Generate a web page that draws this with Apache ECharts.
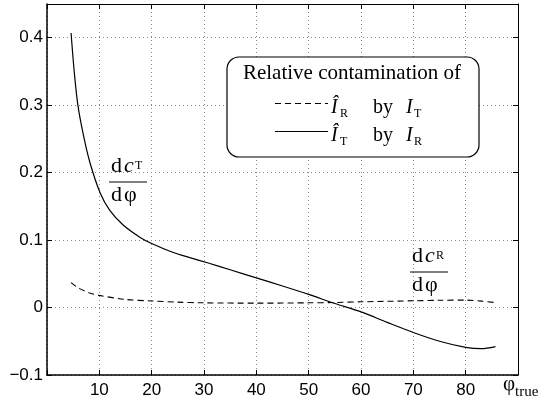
<!DOCTYPE html>
<html>
<head>
<meta charset="utf-8">
<script src="https://cdn.jsdelivr.net/npm/echarts@6/dist/echarts.min.js"></script>
<style>
html,body{margin:0;padding:0;background:#fff;}
#chart{width:544px;height:405px;}
</style>
</head>
<body>
<div id="chart"></div>
<script>
// curve samples (phi in degrees)
var phiT = [4.6, 5.2, 5.9, 7, 8.2, 10.1, 12, 14.6, 17.8, 20, 24, 27.3, 30.8, 35, 40, 45, 50, 55, 60, 65, 70, 75, 80, 83, 85.7];
var dcT  = [0.407, 0.35, 0.30, 0.254, 0.215, 0.171, 0.144, 0.122, 0.104, 0.095, 0.082, 0.074, 0.066, 0.056, 0.044, 0.032, 0.0195, 0.006, -0.0065, -0.022, -0.037, -0.050, -0.059, -0.061, -0.058];
var phiR = [4.6, 6, 8, 10, 15, 20, 25, 30, 40, 50, 55, 60, 70, 75, 80, 83, 85.7];
var dcR  = [0.037, 0.029, 0.022, 0.018, 0.012, 0.0098, 0.008, 0.007, 0.0065, 0.007, 0.0075, 0.0085, 0.010, 0.0108, 0.011, 0.0095, 0.0074];
var xTicks = [10, 20, 30, 40, 50, 60, 70, 80];
var yTicks = [-0.1, 0, 0.1, 0.2, 0.3, 0.4];

var SANS = 'Liberation Sans';
var SERIF = 'Liberation Serif';

function pairs(xs, ys){
  var out = [];
  for (var i = 0; i < xs.length; i++) out.push([xs[i], ys[i]]);
  return out;
}
function inList(v, list){
  for (var i = 0; i < list.length; i++) if (Math.abs(v - list[i]) < 1e-9) return true;
  return false;
}

// text helper, y = baseline (approx)
function txt(x, base, s, size, italic, align){
  return {
    type: 'text', z: 110, x: x, y: base - size * 0.34,
    style: {
      text: s, fill: '#000',
      font: (italic ? 'italic ' : '') + size + 'px "' + SERIF + '"',
      align: align || 'left', verticalAlign: 'middle'
    }
  };
}
function hline(x1, x2, y, dash, w){
  return {
    type: 'line', z: 110,
    shape: {x1: x1, y1: y, x2: x2, y2: y},
    style: {stroke: '#000', lineWidth: w || 1, lineDash: dash || null}
  };
}
// d c_sub / d phi
function frac(x0, barY, sub){
  return [
    txt(x0 + 2, barY - 8, 'd', 22),
    txt(x0 + 15, barY - 8, 'c', 22, true),
    txt(x0 + 26, barY - 12, sub, 12),
    hline(x0, x0 + 38, barY, null, 1),
    txt(x0 + 2, barY + 21, 'd', 22),
    txt(x0 + 15, barY + 21, '\u03c6', 22)
  ];
}

var graphics = [
  {type: 'rect', z: 105, shape: {x: 227, y: 57, width: 252, height: 100, r: 12},
   style: {fill: '#fff', stroke: '#000', lineWidth: 1.2}},
  txt(352, 81, 'Relative contamination of', 21, false, 'center'),
  hline(275, 328, 103.5, [6, 4], 1),
  txt(331, 115, '\u00ce', 20, true),
  txt(340, 118, 'R', 12),
  txt(373, 115, 'by', 20),
  txt(406, 115, 'I', 20, true),
  txt(414, 118, 'T', 12),
  hline(275, 328, 131.5, null, 1),
  txt(331, 143, '\u00ce', 20, true),
  txt(340, 146, 'T', 12),
  txt(373, 143, 'by', 20),
  txt(406, 143, 'I', 20, true),
  txt(414, 146, 'R', 12),
  txt(503, 392, '\u03c6', 21),
  txt(515, 397, 'true', 15)
].concat(frac(109, 182, 'T')).concat(frac(410, 272, 'R'));

var chart = echarts.init(document.getElementById('chart'), null, {renderer: 'canvas'});
var tickStyle = {show: true, inside: true, length: 5, lineStyle: {color: '#000', width: 1}};
chart.setOption({
  backgroundColor: '#fff',
  animation: false,
  grid: {left: 47, right: 26, top: 4, bottom: 30},
  xAxis: [{
    type: 'value', min: 0, max: 90, interval: 10,
    axisLine: {show: true, onZero: false, lineStyle: {color: '#000', width: 1.5}},
    axisTick: tickStyle,
    axisLabel: {
      margin: 7, color: '#000', fontFamily: SANS, fontSize: 17,
      formatter: function(v){ return inList(v, xTicks) ? String(v) : ''; }
    },
    splitLine: {show: true, lineStyle: {color: '#888', width: 1, type: [1, 3]}}
  }, {
    type: 'value', position: 'top', min: 0, max: 90, interval: 10,
    axisLine: {show: true, onZero: false, lineStyle: {color: '#000', width: 1}},
    axisTick: tickStyle, axisLabel: {show: false}, splitLine: {show: false}
  }],
  yAxis: [{
    type: 'value', min: -0.1, max: 0.45, interval: 0.1,
    axisLine: {show: true, onZero: false, lineStyle: {color: '#000', width: 1.5}},
    axisTick: tickStyle,
    axisLabel: {
      margin: 4, color: '#000', fontFamily: SANS, fontSize: 17,
      formatter: function(v){
        if (!inList(v, yTicks)) return '';
        var s = String(Math.round(Math.abs(v) * 10) / 10);
        return v < -1e-9 ? '\u2212' + s : s;
      }
    },
    splitLine: {show: true, lineStyle: {color: '#888', width: 1, type: [1, 3]}}
  }, {
    type: 'value', position: 'right', min: -0.1, max: 0.45, interval: 0.1,
    axisLine: {show: true, onZero: false, lineStyle: {color: '#000', width: 1}},
    axisTick: tickStyle, axisLabel: {show: false}, splitLine: {show: false}
  }],
  series: [{
    name: 'dcR', type: 'line', data: pairs(phiR, dcR),
    showSymbol: false, smooth: 0.3,
    lineStyle: {color: '#000', width: 1.1, type: [6, 4]}
  }, {
    name: 'dcT', type: 'line', data: pairs(phiT, dcT),
    showSymbol: false, smooth: 0.3,
    lineStyle: {color: '#000', width: 1.2}
  }],
  graphic: graphics
});
</script>
</body>
</html>
